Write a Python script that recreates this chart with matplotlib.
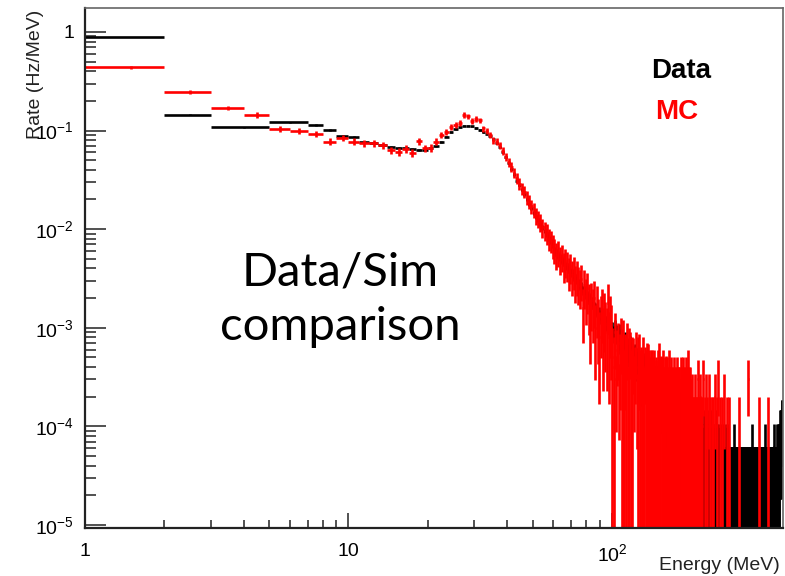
import numpy as np
import matplotlib
matplotlib.use("Agg")
import matplotlib.pyplot as plt
from matplotlib.collections import LineCollection
from matplotlib.ticker import FixedLocator, NullFormatter

# ---------------- data ----------------
# Data (black): wide low-energy bins, then 1 MeV bins
data_low_edges = [1, 2, 3, 5, 7, 8, 9, 10]
data_low_rates = [0.89, 0.145, 0.108, 0.122, 0.114, 0.101, 0.088]
# MC (red): 1 MeV bins from 1 MeV
mc_low_edges = [1, 2, 3, 4, 5, 6, 7, 8, 9, 10]
mc_low_rates = [0.44, 0.246, 0.17, 0.144, 0.104, 0.099, 0.092, 0.077, 0.084]

# 1 MeV bins 10..100 MeV, rates in Hz/MeV
data_rates_10_100 = [
    0.086, 0.077, 0.074, 0.071, 0.068, 0.067, 0.066, 0.065, 0.064, 0.064,
    0.066, 0.069, 0.077, 0.087, 0.097, 0.104, 0.109, 0.112, 0.112, 0.110,
    0.106, 0.101, 0.097, 0.093, 0.088, 0.082, 0.075, 0.068, 0.061, 0.054,
    0.047, 0.041, 0.036, 0.031, 0.028, 0.025, 0.0225, 0.020, 0.0178, 0.0162,
    0.0147, 0.0134, 0.0123, 0.0113, 0.0104, 0.0096, 0.0088, 0.0081, 0.0075, 0.0069,
    0.0061, 0.0058, 0.0054, 0.0052, 0.0048, 0.0046, 0.0043, 0.0042, 0.0039, 0.0037,
    0.0036, 0.0033, 0.0032, 0.0031, 0.0028, 0.0027, 0.0026, 0.0024, 0.0024, 0.0022,
    0.0021, 0.0020, 0.0019, 0.0018, 0.0018, 0.0016, 0.00155, 0.0015, 0.00138, 0.0014,
    0.0013, 0.00128, 0.0012, 0.00121, 0.00112, 0.00114, 0.00106, 0.00108, 0.0010, 0.00098,
]
mc_rates_10_100 = [
    0.077, 0.075, 0.074, 0.071, 0.063, 0.061, 0.065, 0.059, 0.078, 0.066,
    0.067, 0.077, 0.090, 0.097, 0.109, 0.114, 0.120, 0.144, 0.140, 0.125,
    0.131, 0.127, 0.105, 0.099, 0.090, 0.080, 0.077, 0.071, 0.062, 0.054,
    0.048, 0.043, 0.037, 0.033, 0.029, 0.026, 0.024, 0.021, 0.019, 0.017,
    0.0158, 0.0136, 0.0128, 0.0117, 0.0104, 0.0097, 0.0091, 0.0080, 0.0077, 0.0068,
    0.0062, 0.0055, 0.0058, 0.0050, 0.0053, 0.0043, 0.0047, 0.0044, 0.0037, 0.0042,
    0.0034, 0.0038, 0.0030, 0.0034, 0.0029, 0.0027, 0.0031, 0.0016, 0.0027, 0.0021,
    0.0025, 0.0018, 0.0012, 0.0019, 0.0016, 0.0020, 0.0010, 0.0017, 0.0012, 0.0008,
    0.0013, 0.0016, 0.0009, 0.0014, 0.0011, 0.0009, 0.0018, 0.0008, 0.0013, 0.0010,
]

# Data, 1 MeV bins 100..446 MeV: raw event counts
data_counts_100_200 = [
    31, 28, 33, 27, 29, 24, 30, 22, 26, 25,
    23, 20, 24, 18, 21, 19, 17, 22, 15, 19,
    17, 15, 18, 13, 16, 14, 12, 15, 8, 13,
    12, 14, 10, 13, 9, 11, 1, 12, 9, 10,
    9, 11, 7, 10, 8, 9, 6, 10, 8, 7,
    11, 7, 8, 6, 9, 5, 7, 6, 8, 5,
    6, 7, 4, 6, 5, 3, 6, 4, 5, 2,
    4, 5, 3, 6, 4, 2, 5, 3, 4, 3,
    3, 4, 2, 5, 3, 1, 4, 3, 2, 4,
    3, 2, 4, 1, 3, 2, 3, 4, 2, 1,
]
data_counts_200_300 = [
    2, 3, 1, 2, 4, 2, 1, 3, 2, 2,
    1, 3, 2, 1, 2, 3, 1, 2, 3, 1,
    2, 1, 2, 3, 1, 1, 2, 1, 2, 1,
    3, 1, 2, 1, 1, 2, 1, 3, 1, 2,
    1, 1, 2, 1, 1, 2, 1, 1, 3, 1,
    1, 2, 1, 1, 1, 2, 1, 1, 1, 2,
    1, 1, 1, 1, 2, 1, 1, 1, 1, 1,
    2, 1, 1, 1, 1, 1, 2, 1, 1, 1,
    1, 1, 1, 1, 1, 1, 1, 1, 1, 1,
    2, 1, 1, 1, 1, 1, 1, 1, 1, 1,
]
data_counts_300_446 = [
    1, 1, 1, 1, 1, 1, 1, 1, 1, 1,
    1, 1, 1, 1, 1, 1, 1, 1, 1, 1,
    1, 1, 1, 1, 1, 1, 1, 1, 1, 1,
    1, 1, 1, 1, 1, 1, 1, 1, 1, 1,
    2, 1, 1, 1, 1, 1, 1, 1, 1, 1,
    1, 1, 1, 1, 1, 1, 1, 1, 1, 1,
    1, 1, 1, 1, 1, 1, 1, 1, 1, 1,
    1, 1, 1, 1, 1, 1, 1, 1, 1, 1,
    2, 1, 1, 1, 1, 1, 1, 1, 1, 1,
    1, 1, 1, 1, 1, 1, 1, 1, 1, 1,
    1, 1, 1, 1, 1, 1, 1, 1, 1, 1,
    2, 1, 1, 1, 1, 1, 1, 1, 1, 1,
    1, 1, 1, 1, 2, 1, 1, 1, 2, 1,
    2, 1, 2, 3, 2, 2, 3, 2, 3, 3,
    3, 4, 3, 4, 3, 4,
]

# MC, 1 MeV bins 100..200 MeV: weighted rates (1e-4 Hz/MeV) and number of events
mc_rates_100_200_e4 = [
    5, 4, 9, 3, 6, 7, 2.5, 5, 8, 4,
    6, 3, 5, 4, 7, 2, 5, 6, 3, 4,
    5, 3, 4, 6, 2, 4, 5, 3, 4, 3,
    3, 4, 2, 4, 3, 3.5, 2, 4, 3, 2.5,
    3, 2, 3.5, 2.5, 3, 2, 3, 2.5, 2, 3,
    3.5, 2, 2.5, 3, 2, 2.5, 3, 2, 2.5, 2,
    3, 2, 2.5, 2, 3, 2, 2, 2.5, 2, 1.5,
    2, 2.5, 1.5, 2, 2, 0, 2.5, 1.5, 2, 2,
    2, 0, 2.5, 1.5, 2, 2.5, 0, 2, 1.5, 2,
    2.5, 1.5, 0, 2, 3, 1.5, 2, 0, 2, 1.5,
]
mc_events_100_200 = [
    1, 1, 3, 2, 3, 3, 2, 2, 3, 1,
    1, 1, 2, 1, 3, 1, 1, 4, 1, 1,
    3, 2, 3, 4, 2, 1, 2, 1, 3, 1,
    1, 1, 1, 3, 1, 1, 1, 2, 1, 1,
    1, 1, 2, 1, 1, 1, 3, 1, 1, 1,
    1, 1, 1, 2, 1, 1, 1, 1, 1, 1,
    2, 1, 1, 1, 1, 1, 1, 1, 1, 1,
    1, 1, 1, 1, 1, 1, 1, 1, 1, 1,
    1, 1, 1, 1, 1, 1, 1, 1, 1, 1,
    1, 1, 1, 1, 1, 1, 1, 1, 1, 1,
]
# MC, 1 MeV bins 200..446 MeV: raw event counts
mc_counts_200_300 = [
    2, 1, 0, 1, 1, 0, 2, 1, 1, 1,
    0, 3, 1, 0, 1, 1, 2, 0, 1, 0,
    1, 0, 3, 0, 0, 1, 0, 2, 0, 0,
    1, 0, 0, 2, 0, 0, 1, 0, 0, 1,
    0, 0, 1, 0, 0, 2, 0, 0, 0, 1,
    0, 0, 3, 0, 0, 0, 1, 0, 0, 0,
    0, 1, 0, 0, 0, 0, 2, 0, 0, 0,
    0, 0, 1, 0, 0, 0, 0, 0, 1, 0,
    0, 0, 0, 0, 0, 0, 0, 0, 0, 0,
    0, 0, 0, 0, 0, 0, 0, 0, 0, 0,
]
mc_counts_300_446 = [
    0, 0, 0, 1, 0, 0, 0, 0, 0, 0,
    0, 0, 0, 0, 0, 0, 0, 0, 0, 0,
    0, 0, 0, 0, 0, 0, 0, 0, 0, 3,
    0, 0, 0, 0, 0, 0, 0, 0, 0, 0,
    0, 0, 0, 0, 0, 0, 0, 0, 0, 0,
    0, 0, 0, 0, 0, 0, 0, 0, 0, 0,
    0, 0, 1, 0, 0, 0, 0, 0, 0, 0,
    0, 0, 0, 0, 0, 0, 0, 0, 0, 0,
    0, 0, 0, 0, 0, 0, 0, 0, 0, 0,
    1, 0, 0, 0, 0, 0, 0, 0, 0, 0,
    0, 0, 0, 0, 0, 0, 0, 0, 0, 0,
    0, 0, 0, 0, 0, 0, 0, 0, 0, 0,
    0, 0, 0, 0, 0, 0, 0, 0, 0, 0,
    0, 0, 0, 0, 0, 0, 0, 0, 0, 0,
    0, 0, 0, 0, 0, 0,
]

# Rate (Hz/MeV) carried by one event in a 1 MeV bin
DATA_EVENT_RATE = 3.1e-5
MC_EVENT_RATE = 1.0e-4
MC_ERR_SCALE = 5.0e-4          # error scale of the dense (weighted) MC region

x_tick_values = [1, 10, 100]
x_tick_labels = ["1", "10", r"$\mathregular{10^{2}}$"]
y_tick_values = [1e-5, 1e-4, 1e-3, 1e-2, 1e-1, 1]
y_tick_labels = [r"$\mathregular{10^{-5}}$", r"$\mathregular{10^{-4}}$",
                 r"$\mathregular{10^{-3}}$", r"$\mathregular{10^{-2}}$",
                 r"$\mathregular{10^{-1}}$", "1"]

# ---------------- build bins ----------------
def rate_bins(low_edges, low_rates, rates_10_100, err_scale):
    edges = np.array(list(low_edges) + list(range(11, 101)), dtype=float)
    rates = np.array(list(low_rates) + list(rates_10_100), dtype=float)
    errs = np.sqrt(rates * err_scale / np.diff(edges))
    return edges, rates, errs


def count_bins(counts, w):
    n = np.array(counts, dtype=float)
    return n * w, np.sqrt(n) * w


d_edges, d_r, d_e = rate_bins(data_low_edges, data_low_rates, data_rates_10_100,
                              DATA_EVENT_RATE)
d_vals, d_errs = [d_r], [d_e]
for cl in (data_counts_100_200, data_counts_200_300, data_counts_300_446):
    v, e = count_bins(cl, DATA_EVENT_RATE)
    d_vals.append(v)
    d_errs.append(e)
d_edges = np.concatenate([d_edges, np.arange(101, 447, dtype=float)])
d_vals = np.concatenate(d_vals)
d_errs = np.concatenate(d_errs)

m_edges, m_r, m_e = rate_bins(mc_low_edges, mc_low_rates, mc_rates_10_100,
                              MC_ERR_SCALE)
mw_v = np.array(mc_rates_100_200_e4, dtype=float) * 1e-4
mw_e = mw_v / np.sqrt(np.array(mc_events_100_200, dtype=float))
m_vals, m_errs = [m_r, mw_v], [m_e, mw_e]
for cl in (mc_counts_200_300, mc_counts_300_446):
    v, e = count_bins(cl, MC_EVENT_RATE)
    m_vals.append(v)
    m_errs.append(e)
m_edges = np.concatenate([m_edges, np.arange(101, 447, dtype=float)])
m_vals = np.concatenate(m_vals)
m_errs = np.concatenate(m_errs)


def draw_hist(ax, edges, vals, errs, color, lw):
    segs = []
    for lo, hi, v, e in zip(edges[:-1], edges[1:], vals, errs):
        if v <= 0:
            continue
        segs.append([(lo, v), (hi, v)])
        c = 0.5 * (lo + hi)
        segs.append([(c, max(v - e, 1e-9)), (c, v + e)])
    ax.add_collection(LineCollection(segs, colors=color, linewidths=lw,
                                     capstyle="butt"))


plt.rcParams["font.family"] = ["Liberation Sans", "DejaVu Sans"]
plt.rcParams["mathtext.fontset"] = "custom"
plt.rcParams["mathtext.rm"] = "Liberation Sans"
plt.rcParams["mathtext.it"] = "Liberation Sans:italic"
plt.rcParams["mathtext.bf"] = "Liberation Sans:bold"

W, H = 785, 576
fig = plt.figure(figsize=(W / 100, H / 100), dpi=100)
ax = fig.add_axes([85 / W, 1 - 528 / H, (783 - 85) / W, (528 - 8) / H])
ax.set_xscale("log")
ax.set_yscale("log")
ax.set_xlim(1, 446)
ax.set_ylim(9.3e-6, 1.75)

draw_hist(ax, d_edges, d_vals, d_errs, "#000000", 1.9)
draw_hist(ax, m_edges, m_vals, m_errs, "#ff0000", 1.9)

# axes styling (ROOT-like)
for s in ["left", "bottom"]:
    ax.spines[s].set_linewidth(1.6)
    ax.spines[s].set_color("#222222")
for s in ["top", "right"]:
    ax.spines[s].set_linewidth(1.2)
    ax.spines[s].set_color("#666666")

ax.xaxis.set_major_locator(FixedLocator(x_tick_values))
ax.xaxis.set_ticklabels(x_tick_labels)
ax.xaxis.set_minor_locator(FixedLocator(
    [m * 10 ** k for k in range(0, 3) for m in range(2, 10) if m * 10 ** k < 446]))
ax.xaxis.set_minor_formatter(NullFormatter())
ax.yaxis.set_major_locator(FixedLocator(y_tick_values))
ax.yaxis.set_ticklabels(y_tick_labels)
ax.yaxis.set_minor_locator(FixedLocator(
    [m * 10.0 ** k for k in range(-5, 0) for m in range(2, 10)]))
ax.yaxis.set_minor_formatter(NullFormatter())

ax.tick_params(axis="x", which="major", direction="in", length=11, width=1.2,
               color="#333333", labelsize=14, pad=11, top=False)
ax.tick_params(axis="x", which="minor", direction="in", length=6, width=1.2,
               color="#333333", top=False)
ax.tick_params(axis="y", which="major", direction="in", length=15, width=1.2,
               color="#333333", labelsize=14, pad=8, right=False)
ax.tick_params(axis="y", which="minor", direction="in", length=8, width=1.2,
               color="#333333", right=False)

fig.text(780 / W, 1 - 566 / H, "Energy (MeV)", ha="right", va="center",
         fontsize=14, color="#222222")
fig.text(36 / W, 1 - 10 / H, "Rate (Hz/MeV)", ha="center", va="top",
         rotation=90, fontsize=14, color="#222222")

# legend
fig.text(651 / W, 1 - 71 / H, "Data", ha="left", va="center", fontsize=20,
         fontweight="bold", color="#000000")
fig.text(655 / W, 1 - 112 / H, "MC", ha="left", va="center", fontsize=20,
         fontweight="bold", color="#ff0000")

# annotation
fig.text(340 / W, 1 - 285 / H, "Data/Sim", ha="center", va="baseline",
         fontsize=34, family=["Lato", "DejaVu Sans"], color="#000000")
fig.text(340 / W, 1 - 340 / H, "comparison", ha="center", va="baseline",
         fontsize=34, family=["Lato", "DejaVu Sans"], color="#000000")

fig.savefig("out.png", dpi=100)
